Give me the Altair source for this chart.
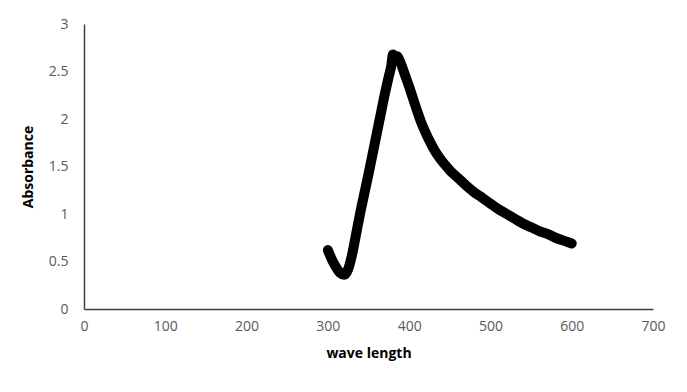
import altair as alt
import pandas as pd

wavelength = [300, 305, 310, 315, 320, 325, 330, 335, 340, 345, 350, 355, 360, 365,
              370, 375, 378, 380, 382, 385, 390, 395, 400, 405, 410, 415, 420, 425,
              430, 435, 440, 445, 450, 460, 470, 480, 490, 500, 510, 520, 530, 540,
              550, 560, 570, 580, 590, 600]
absorbance = [0.62, 0.52, 0.44, 0.38, 0.36, 0.42, 0.58, 0.80, 1.02, 1.22, 1.42, 1.63,
              1.84, 2.05, 2.26, 2.45, 2.56, 2.68, 2.62, 2.66, 2.58, 2.46, 2.34, 2.21,
              2.08, 1.96, 1.86, 1.77, 1.69, 1.62, 1.56, 1.51, 1.46, 1.38, 1.30, 1.23,
              1.17, 1.11, 1.05, 1.00, 0.95, 0.90, 0.86, 0.82, 0.79, 0.75, 0.72, 0.69]

df = pd.DataFrame({"wl": wavelength, "a": absorbance})

x = alt.X("wl:Q", title="wave length",
          scale=alt.Scale(domain=[0, 700], nice=False),
          axis=alt.Axis(values=[0, 100, 200, 300, 400, 500, 600, 700], grid=False,
                        ticks=False, labelPadding=10, titlePadding=13, format="d",
                        labelFlush=False))
y = alt.Y("a:Q", title="Absorbance",
          scale=alt.Scale(domain=[0, 3], nice=False),
          axis=alt.Axis(values=[0, 0.5, 1, 1.5, 2, 2.5, 3], grid=False,
                        ticks=False, labelPadding=16, titlePadding=13, format="~g",
                        labelFlush=False))

line = alt.Chart(df).mark_line(color="black", strokeWidth=10, strokeCap="round",
                               strokeJoin="round", interpolate="monotone").encode(x=x, y=y)

chart = line.properties(
    width=569, height=285,
    autosize=alt.AutoSizeParams(type="none"),
    padding={"left": 76, "top": 16, "right": 26, "bottom": 60},
).configure_view(stroke=None).configure_axis(
    domainColor="#404040", domainWidth=1.5,
    labelColor="#595959", labelFont="Open Sans", labelFontSize=14,
    titleFont="Open Sans", titleFontSize=14, titleFontWeight="bold", titleColor="black",
)

chart.save("out.html", embed_options={"renderer": "svg", "actions": False})
